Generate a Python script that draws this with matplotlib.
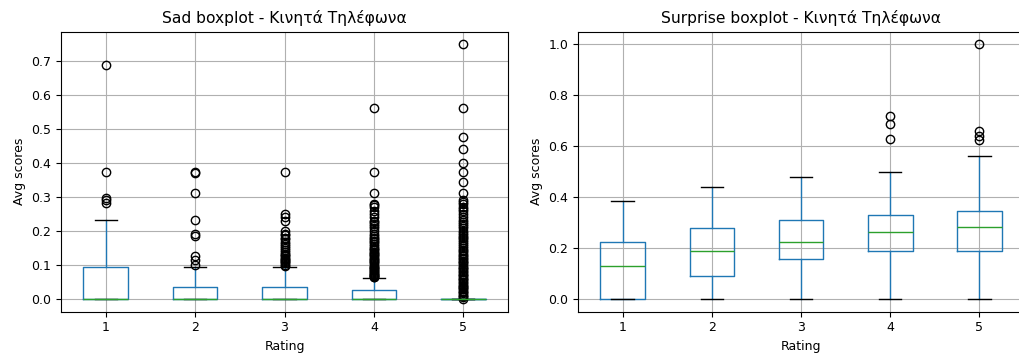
import matplotlib
matplotlib.use("Agg")
import matplotlib.pyplot as plt

ratings = ["1", "2", "3", "4", "5"]

# Sad scores per rating: box statistics and outliers
sad_whislo = [0.0, 0.0, 0.0, 0.0, 0.0]
sad_q1 = [0.0, 0.0, 0.0, 0.0, 0.0]
sad_med = [0.0, 0.0, 0.0, 0.0, 0.0]
sad_q3 = [0.094, 0.036, 0.036, 0.026, 0.0]
sad_whishi = [0.232, 0.094, 0.094, 0.061, 0.0]
sad_fliers_1 = [0.283, 0.29, 0.298, 0.375, 0.688]
sad_fliers_2 = [0.1, 0.115, 0.127, 0.185, 0.19, 0.232, 0.3125, 0.37, 0.375]
sad_fliers_3 = [0.097, 0.1, 0.104, 0.107, 0.11, 0.114, 0.118, 0.12, 0.125,
                0.13, 0.133, 0.139, 0.143, 0.15, 0.156, 0.16, 0.167, 0.175,
                0.18, 0.188, 0.19, 0.2, 0.23, 0.24, 0.25, 0.375]
sad_fliers_4 = [0.063, 0.065, 0.067, 0.07, 0.071, 0.074, 0.077, 0.08, 0.083,
                0.086, 0.088, 0.09, 0.093, 0.095, 0.1, 0.104, 0.107, 0.11,
                0.114, 0.118, 0.12, 0.125, 0.13, 0.133, 0.136, 0.139, 0.143,
                0.147, 0.15, 0.156, 0.16, 0.167, 0.17, 0.175, 0.18, 0.185,
                0.19, 0.2, 0.208, 0.214, 0.22, 0.225, 0.23, 0.24, 0.25, 0.26,
                0.27, 0.275, 0.28, 0.3125, 0.375, 0.5625]
sad_fliers_5 = [0.0, 0.004, 0.008, 0.012, 0.016, 0.02, 0.024, 0.028, 0.031,
                0.035, 0.039, 0.042, 0.046, 0.05, 0.054, 0.058, 0.062, 0.066,
                0.07, 0.074, 0.078, 0.083, 0.087, 0.091, 0.095, 0.1, 0.104,
                0.108, 0.112, 0.117, 0.121, 0.125, 0.13, 0.135, 0.14, 0.145,
                0.15, 0.156, 0.161, 0.167, 0.172, 0.178, 0.183, 0.188, 0.194,
                0.2, 0.208, 0.214, 0.22, 0.227, 0.233, 0.24, 0.25, 0.258,
                0.265, 0.27, 0.278, 0.285, 0.29, 0.3125, 0.344, 0.375, 0.4,
                0.44, 0.477, 0.5625, 0.75]
sad_fliers = [sad_fliers_1, sad_fliers_2, sad_fliers_3, sad_fliers_4, sad_fliers_5]

# Surprise scores per rating: box statistics and outliers
sur_whislo = [0.0, 0.0, 0.0, 0.0, 0.0]
sur_q1 = [0.0, 0.089, 0.158, 0.186, 0.186]
sur_med = [0.129, 0.186, 0.224, 0.264, 0.281]
sur_q3 = [0.224, 0.28, 0.308, 0.329, 0.343]
sur_whishi = [0.383, 0.438, 0.48, 0.5, 0.561]
sur_fliers = [[], [], [], [0.627, 0.688, 0.72], [0.622, 0.641, 0.66, 1.0]]


def box_stats(whislo, q1, med, q3, whishi, fliers):
    return [dict(label=r, whislo=a, q1=b, med=c, q3=d, whishi=e, fliers=f)
            for r, a, b, c, d, e, f in zip(ratings, whislo, q1, med, q3, whishi, fliers)]


fig = plt.figure(figsize=(10.19, 3.54), dpi=100)
ax1 = fig.add_axes([61 / 1019, 0.12, 447 / 1019, 0.791])
ax2 = fig.add_axes([578 / 1019, 0.12, 446 / 1019, 0.791])

panels = [
    (ax1, box_stats(sad_whislo, sad_q1, sad_med, sad_q3, sad_whishi, sad_fliers),
     "Sad boxplot - Κινητά Τηλέφωνα"),
    (ax2, box_stats(sur_whislo, sur_q1, sur_med, sur_q3, sur_whishi, sur_fliers),
     "Surprise boxplot - Κινητά Τηλέφωνα"),
]

for ax, stats, title in panels:
    ax.bxp(stats, widths=0.5,
           boxprops=dict(color="#1f77b4"),
           whiskerprops=dict(color="#1f77b4"),
           medianprops=dict(color="#2ca02c"),
           capprops=dict(color="black"),
           flierprops=dict(marker="o", markerfacecolor="none",
                           markeredgecolor="black", markersize=6))
    ax.grid(True)
    ax.set_title(title, fontsize=11.2)
    ax.set_xlabel("Rating", fontsize=9)
    ax.set_ylabel("Avg scores", fontsize=9)
    ax.tick_params(labelsize=9)

fig.savefig("out.png", dpi=100)
